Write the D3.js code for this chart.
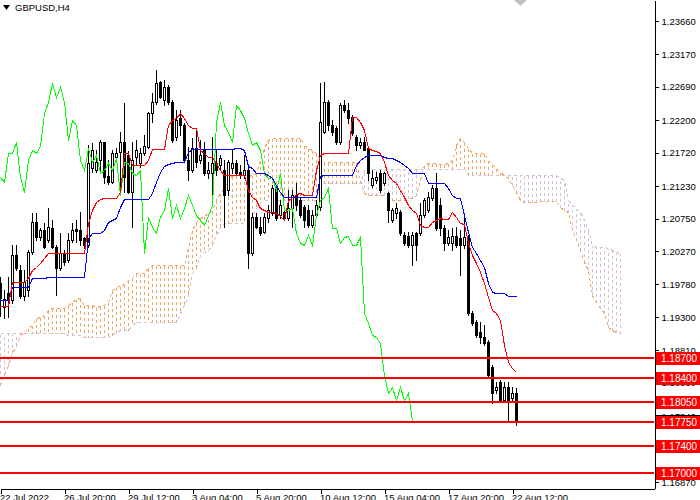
<!DOCTYPE html>
<html lang="en">
  <head>
    <meta charset="UTF-8" />
    <title>GBPUSD,H4</title>
    <style>
      body {
        margin: 0;
        background: #fff;
      }
      svg text {
        font-family: Tahoma, "Liberation Sans", Arial, sans-serif;
        font-size: 9.5px;
        fill: #000;
      }
      .crisp {
        shape-rendering: crispEdges;
      }
    </style>
  </head>

  <body>
    <svg id="chart" width="700" height="500"></svg>
    <script src="https://cdn.jsdelivr.net/npm/d3@7"></script>
    <script>
      /* global d3 */

      const symbolTitle = "GBPUSD,H4";
      const dateLabels = ["22 Jul 2022", "26 Jul 20:00", "29 Jul 12:00", "3 Aug 04:00", "5 Aug 20:00",
        "10 Aug 12:00", "15 Aug 04:00", "17 Aug 20:00", "22 Aug 12:00"];
      const dateTicks = [0, 16, 32, 48, 64, 80, 96, 112, 128];
      const priceTicks = [1.2366, 1.2317, 1.2269, 1.222, 1.2172, 1.2123, 1.2075, 1.2027, 1.1978,
        1.193, 1.1881, 1.1833, 1.1784, 1.1736, 1.1687];
      const levels = [1.187, 1.184, 1.1805, 1.1775, 1.174, 1.17];
      const bid = 1.1777;

      // H4 candles, oldest first
      const open = [
        1.1980, 1.1945, 1.1965, 1.1955, 1.2021, 1.1999, 1.1961, 1.1970, 1.2026, 1.2070,
        1.2048, 1.2058, 1.2043, 1.2061, 1.2033, 1.2002, 1.2024, 1.2014, 1.2043, 1.2060,
        1.2058, 1.2046, 1.2036, 1.2150, 1.2147, 1.2161, 1.2188, 1.2138, 1.2129, 1.2166,
        1.2173, 1.2188, 1.2169, 1.2114, 1.2166, 1.2157, 1.2172, 1.2180, 1.2231, 1.2247,
        1.2276, 1.2250, 1.2269, 1.2247, 1.2195, 1.2223, 1.2213, 1.2161, 1.2147, 1.2179,
        1.2161, 1.2176, 1.2142, 1.2142, 1.2157, 1.2154, 1.2147, 1.2117, 1.2150, 1.2157,
        1.2144, 1.2139, 1.2147, 1.2024, 1.2077, 1.2063, 1.2055, 1.2076, 1.2083, 1.2120,
        1.2080, 1.2085, 1.2076, 1.2091, 1.2110, 1.2102, 1.2092, 1.2088, 1.2066, 1.2080,
        1.2092, 1.2203, 1.2247, 1.2213, 1.2208, 1.2188, 1.2242, 1.2235, 1.2225, 1.2195,
        1.2183, 1.2188, 1.2179, 1.2125, 1.2132, 1.2142, 1.2127, 1.2113, 1.2073, 1.2083,
        1.2085, 1.2051, 1.2049, 1.2036, 1.2054, 1.2054, 1.2080, 1.2088, 1.2105, 1.2120,
        1.2095, 1.2061, 1.2039, 1.2039, 1.2049, 1.2046, 1.2036, 1.2048, 1.1936, 1.1923,
        1.1908, 1.1901, 1.1893, 1.1856, 1.1823, 1.1834, 1.1808, 1.1827, 1.1811, 1.1818
      ];
      const high = [
        1.1989, 1.1970, 1.1989, 1.2036, 1.2036, 1.2007, 1.1999, 1.2029, 1.2083, 1.2083,
        1.2061, 1.2068, 1.2091, 1.2073, 1.2036, 1.2054, 1.2029, 1.2054, 1.2068, 1.2073,
        1.2085, 1.2048, 1.2183, 1.2186, 1.2176, 1.2191, 1.2188, 1.2161, 1.2176, 1.2179,
        1.2203, 1.2245, 1.2175, 1.2188, 1.2191, 1.2179, 1.2198, 1.2232, 1.2260, 1.2294,
        1.2278, 1.2279, 1.2272, 1.2250, 1.2235, 1.2235, 1.2216, 1.2180, 1.2194, 1.2208,
        1.2191, 1.2188, 1.2158, 1.2195, 1.2176, 1.2169, 1.2161, 1.2161, 1.2176, 1.2161,
        1.2154, 1.2169, 1.2154, 1.2083, 1.2083, 1.2077, 1.2083, 1.2095, 1.2125, 1.2123,
        1.2102, 1.2094, 1.2117, 1.2117, 1.2127, 1.2107, 1.2095, 1.2095, 1.2088, 1.2102,
        1.2275, 1.2276, 1.2250, 1.2220, 1.2211, 1.2245, 1.2250, 1.2245, 1.2228, 1.2198,
        1.2194, 1.2195, 1.2180, 1.2147, 1.2144, 1.2147, 1.2144, 1.2114, 1.2091, 1.2098,
        1.2088, 1.2055, 1.2055, 1.2055, 1.2055, 1.2098, 1.2105, 1.2114, 1.2125, 1.2142,
        1.2105, 1.2066, 1.2058, 1.2061, 1.2063, 1.2058, 1.2080, 1.2051, 1.1939, 1.1926,
        1.1923, 1.1918, 1.1896, 1.1859, 1.1834, 1.1837, 1.1834, 1.1834, 1.1827, 1.1826
      ];
      const low = [
        1.1932, 1.1929, 1.1930, 1.1951, 1.1999, 1.1958, 1.1955, 1.1961, 1.2023, 1.2043,
        1.2043, 1.2032, 1.2041, 1.2032, 1.1962, 1.1999, 1.2007, 1.2011, 1.2041, 1.2041,
        1.2036, 1.2032, 1.2033, 1.2144, 1.2144, 1.2142, 1.2127, 1.2126, 1.2127, 1.2161,
        1.2122, 1.2114, 1.2113, 1.2063, 1.2154, 1.2151, 1.2169, 1.2179, 1.2217, 1.2244,
        1.2253, 1.2242, 1.2244, 1.2188, 1.2191, 1.2198, 1.2158, 1.2132, 1.2144, 1.2151,
        1.2157, 1.2139, 1.2135, 1.2099, 1.2139, 1.2147, 1.2063, 1.2110, 1.2142, 1.2139,
        1.2135, 1.2135, 1.2002, 1.2021, 1.2061, 1.2051, 1.2054, 1.2070, 1.2080, 1.2073,
        1.2076, 1.2073, 1.2073, 1.2063, 1.2088, 1.2077, 1.2063, 1.2063, 1.2063, 1.2076,
        1.2088, 1.2201, 1.2206, 1.2198, 1.2185, 1.2185, 1.2232, 1.2216, 1.2198, 1.2176,
        1.2179, 1.2176, 1.2132, 1.2122, 1.2127, 1.2114, 1.2125, 1.2070, 1.2070, 1.2076,
        1.2051, 1.2036, 1.2033, 1.2007, 1.2014, 1.2051, 1.2077, 1.2085, 1.2102, 1.2058,
        1.2051, 1.2029, 1.2036, 1.2029, 1.2033, 1.1992, 1.2032, 1.1933, 1.1918, 1.1901,
        1.1892, 1.1889, 1.1842, 1.1803, 1.1818, 1.1805, 1.1805, 1.1778, 1.1808, 1.1771
      ];
      const close = [
        1.1958, 1.1957, 1.1955, 1.2021, 1.2002, 1.1961, 1.1982, 1.2026, 1.2070, 1.2048,
        1.2058, 1.2033, 1.2063, 1.2033, 1.2002, 1.2024, 1.2011, 1.2043, 1.2058, 1.2057,
        1.2043, 1.2036, 1.2157, 1.2176, 1.2158, 1.2188, 1.2136, 1.2129, 1.2172, 1.2172,
        1.2188, 1.2136, 1.2114, 1.2161, 1.2176, 1.2172, 1.2182, 1.2231, 1.2247, 1.2275,
        1.2254, 1.2269, 1.2247, 1.2191, 1.2220, 1.2213, 1.2161, 1.2147, 1.2179, 1.2158,
        1.2169, 1.2142, 1.2147, 1.2157, 1.2147, 1.2164, 1.2110, 1.2158, 1.2157, 1.2142,
        1.2139, 1.2147, 1.2024, 1.2077, 1.2063, 1.2054, 1.2077, 1.2088, 1.2120, 1.2076,
        1.2095, 1.2076, 1.2091, 1.2110, 1.2095, 1.2080, 1.2073, 1.2066, 1.2080, 1.2095,
        1.2217, 1.2247, 1.2213, 1.2203, 1.2188, 1.2242, 1.2235, 1.2223, 1.2201, 1.2183,
        1.2188, 1.2176, 1.2142, 1.2135, 1.2136, 1.2117, 1.2142, 1.2088, 1.2088, 1.2091,
        1.2054, 1.2039, 1.2036, 1.2051, 1.2036, 1.2080, 1.2102, 1.2107, 1.2120, 1.2061,
        1.2061, 1.2039, 1.2048, 1.2049, 1.2036, 1.2036, 1.2048, 1.1936, 1.1921, 1.1904,
        1.1901, 1.1892, 1.1845, 1.1818, 1.1827, 1.1808, 1.1827, 1.1808, 1.1818, 1.1777
      ];

      // Ichimoku lines
      const tenkan = [
        1.1946, 1.1946, 1.1946, 1.1982, 1.1982, 1.1982, 1.1982, 1.1988, 1.1999, 1.2004,
        1.2010, 1.2017, 1.2024, 1.2024, 1.2024, 1.2024, 1.2024, 1.2024, 1.2024, 1.2024,
        1.2024, 1.2024, 1.2068, 1.2088, 1.2099, 1.2104, 1.2105, 1.2105, 1.2105, 1.2105,
        1.2114, 1.2172, 1.2172, 1.2154, 1.2154, 1.2154, 1.2154, 1.2161, 1.2178, 1.2178,
        1.2178, 1.2178, 1.2213, 1.2220, 1.2223, 1.2231, 1.2223, 1.2213, 1.2208, 1.2208,
        1.2176, 1.2172, 1.2166, 1.2166, 1.2157, 1.2147, 1.2139, 1.2139, 1.2139, 1.2139,
        1.2139, 1.2139, 1.2117, 1.2107, 1.2102, 1.2091, 1.2088, 1.2085, 1.2085, 1.2083,
        1.2079, 1.2073, 1.2102, 1.2105, 1.2111, 1.2113, 1.2110, 1.2110, 1.2110, 1.2147,
        1.2169, 1.2172, 1.2172, 1.2172, 1.2172, 1.2172, 1.2172, 1.2172, 1.2225, 1.2225,
        1.2217, 1.2206, 1.2179, 1.2176, 1.2175, 1.2172, 1.2158, 1.2139, 1.2132, 1.2127,
        1.2117, 1.2107, 1.2095, 1.2088, 1.2083, 1.2066, 1.2063, 1.2063, 1.2070, 1.2073,
        1.2076, 1.2074, 1.2074, 1.2085, 1.2077, 1.2068, 1.2067, 1.2039, 1.2021, 1.2010,
        1.1996, 1.1980, 1.1960, 1.1940, 1.1936, 1.1926, 1.1889, 1.1864, 1.1855, 1.1849
      ];
      const kijun = [
        1.1955, 1.1955, 1.1955, 1.1974, 1.1974, 1.1974, 1.1974, 1.1974, 1.1988, 1.1988,
        1.1988, 1.1988, 1.1989, 1.1989, 1.1989, 1.1989, 1.1989, 1.1989, 1.1989, 1.1989,
        1.1989, 1.1989, 1.2046, 1.2054, 1.2054, 1.2054, 1.2058, 1.2070, 1.2073, 1.2076,
        1.2092, 1.2104, 1.2104, 1.2104, 1.2104, 1.2104, 1.2104, 1.2104, 1.2113, 1.2129,
        1.2144, 1.2152, 1.2155, 1.2157, 1.2158, 1.2158, 1.2158, 1.2173, 1.2178, 1.2178,
        1.2178, 1.2178, 1.2178, 1.2178, 1.2178, 1.2178, 1.2178, 1.2178, 1.2178, 1.2179,
        1.2179, 1.2176, 1.2152, 1.2150, 1.2142, 1.2142, 1.2142, 1.2139, 1.2135, 1.2125,
        1.2114, 1.2107, 1.2107, 1.2107, 1.2107, 1.2107, 1.2107, 1.2107, 1.2107, 1.2107,
        1.2138, 1.2139, 1.2139, 1.2139, 1.2139, 1.2139, 1.2139, 1.2139, 1.2139, 1.2154,
        1.2161, 1.2166, 1.2169, 1.2169, 1.2169, 1.2169, 1.2166, 1.2164, 1.2164, 1.2161,
        1.2158, 1.2154, 1.2150, 1.2142, 1.2142, 1.2142, 1.2142, 1.2127, 1.2127, 1.2127,
        1.2127, 1.2127, 1.2120, 1.2110, 1.2105, 1.2105, 1.2080, 1.2055, 1.2033, 1.2024,
        1.2014, 1.2004, 1.1980, 1.1967, 1.1965, 1.1965, 1.1965, 1.1961, 1.1961, 1.1961
      ];
      // Senkou spans run 26 bars past the last candle
      const spanA = [
        1.1830, 1.1845, 1.1859, 1.1877, 1.1889, 1.1904, 1.1908, 1.1914, 1.1918, 1.1929,
        1.1930, 1.1933, 1.1940, 1.1943, 1.1943, 1.1943, 1.1943, 1.1948, 1.1952, 1.1957,
        1.1958, 1.1948, 1.1948, 1.1948, 1.1945, 1.1946, 1.1948, 1.1952, 1.1970, 1.1974,
        1.1976, 1.1979, 1.1985, 1.1989, 1.1995, 1.1995, 1.1995, 1.2002, 1.2007, 1.2007,
        1.2007, 1.2007, 1.2007, 1.2007, 1.2007, 1.2007, 1.2007, 1.2032, 1.2058, 1.2070,
        1.2076, 1.2079, 1.2083, 1.2088, 1.2102, 1.2113, 1.2120, 1.2135, 1.2138, 1.2139,
        1.2139, 1.2139, 1.2138, 1.2139, 1.2142, 1.2161, 1.2179, 1.2191, 1.2194, 1.2194,
        1.2194, 1.2194, 1.2194, 1.2194, 1.2194, 1.2194, 1.2183, 1.2179, 1.2176, 1.2172,
        1.2164, 1.2158, 1.2158, 1.2158, 1.2158, 1.2158, 1.2158, 1.2158, 1.2158, 1.2158,
        1.2132, 1.2113, 1.2110, 1.2110, 1.2110, 1.2110, 1.2110, 1.2105, 1.2102, 1.2102,
        1.2102, 1.2102, 1.2105, 1.2105, 1.2110, 1.2132, 1.2154, 1.2157, 1.2157, 1.2157,
        1.2155, 1.2155, 1.2157, 1.2161, 1.2183, 1.2194, 1.2188, 1.2179, 1.2172, 1.2172,
        1.2172, 1.2172, 1.2161, 1.2155, 1.2150, 1.2144, 1.2139, 1.2135, 1.2125, 1.2114,
        1.2102, 1.2099, 1.2099, 1.2099, 1.2099, 1.2101, 1.2101, 1.2101, 1.2101, 1.2101,
        1.2092, 1.2088, 1.2085, 1.2058, 1.2043, 1.2029, 1.2011, 1.1999, 1.1962, 1.1952,
        1.1943, 1.1936, 1.1915, 1.1911, 1.1908, 1.1907
      ];
      const spanB = [
        1.1907, 1.1907, 1.1907, 1.1907, 1.1907, 1.1907, 1.1907, 1.1907, 1.1907, 1.1907,
        1.1907, 1.1907, 1.1907, 1.1907, 1.1907, 1.1907, 1.1907, 1.1904, 1.1904, 1.1904,
        1.1904, 1.1901, 1.1901, 1.1901, 1.1901, 1.1901, 1.1901, 1.1901, 1.1904, 1.1908,
        1.1911, 1.1911, 1.1911, 1.1918, 1.1923, 1.1923, 1.1923, 1.1923, 1.1923, 1.1923,
        1.1923, 1.1923, 1.1923, 1.1923, 1.1923, 1.1936, 1.1948, 1.1962, 1.1995, 1.2002,
        1.2021, 1.2026, 1.2029, 1.2036, 1.2051, 1.2063, 1.2068, 1.2068, 1.2068, 1.2068,
        1.2068, 1.2068, 1.2068, 1.2080, 1.2091, 1.2098, 1.2102, 1.2102, 1.2102, 1.2102,
        1.2102, 1.2102, 1.2102, 1.2102, 1.2102, 1.2102, 1.2102, 1.2102, 1.2102, 1.2102,
        1.2127, 1.2127, 1.2127, 1.2127, 1.2127, 1.2127, 1.2127, 1.2127, 1.2127, 1.2127,
        1.2127, 1.2147, 1.2148, 1.2148, 1.2148, 1.2148, 1.2148, 1.2148, 1.2148, 1.2148,
        1.2148, 1.2148, 1.2148, 1.2148, 1.2148, 1.2148, 1.2148, 1.2148, 1.2148, 1.2148,
        1.2148, 1.2148, 1.2148, 1.2148, 1.2148, 1.2148, 1.2148, 1.2139, 1.2139, 1.2139,
        1.2139, 1.2139, 1.2139, 1.2139, 1.2139, 1.2139, 1.2139, 1.2139, 1.2139, 1.2139,
        1.2139, 1.2139, 1.2139, 1.2139, 1.2139, 1.2139, 1.2139, 1.2139, 1.2139, 1.2139,
        1.2135, 1.2132, 1.2102, 1.2095, 1.2091, 1.2085, 1.2073, 1.2058, 1.2036, 1.2033,
        1.2033, 1.2033, 1.2032, 1.2029, 1.2026, 1.2024
      ];
      const chikouShift = 26;

      const plotRight = 654,
        plotBottom = 488;

      // 4px per bar, like the terminal's zoom level
      const x = d3.scaleLinear().domain([0, 163.5]).range([0.5, plotRight + 0.5]);
      const y = d3.scaleLinear().domain([1.16782, 1.2397]).range([plotBottom, 0]);
      const py = v => Math.round(y(v)) + 0.5;

      const svg = d3.select("#chart");

      svg
        .append("defs")
        .append("clipPath")
        .attr("id", "plot")
        .append("rect")
        .attr("width", plotRight)
        .attr("height", plotBottom);

      const plot = svg.append("g").attr("clip-path", "url(#plot)").attr("class", "crisp");

      const bars = d3.range(open.length);
      const cloudIdx = d3.range(spanA.length);

      // kumo hatching
      plot
        .append("g")
        .selectAll("line")
        .data(cloudIdx)
        .join("line")
        .attr("x1", i => x(i))
        .attr("x2", i => x(i))
        .attr("y1", i => py(spanA[i]))
        .attr("y2", i => py(spanB[i]))
        .attr("stroke", i => (spanA[i] >= spanB[i] ? "#f4a460" : "#d8bfd8"))
        .attr("stroke-dasharray", "3,3");

      const spanLine = arr =>
        d3
          .line()
          .x((d, i) => x(i))
          .y(d => py(d))(arr);

      plot
        .append("path")
        .attr("d", spanLine(spanB))
        .attr("fill", "none")
        .attr("stroke", "#d8bfd8")
        .attr("stroke-dasharray", "3,3");
      plot
        .append("path")
        .attr("d", spanLine(spanA))
        .attr("fill", "none")
        .attr("stroke", "#f4a460")
        .attr("stroke-dasharray", "3,3");

      // candles
      const candle = plot
        .append("g")
        .selectAll("g")
        .data(bars)
        .join("g");

      candle
        .append("line")
        .attr("x1", i => x(i))
        .attr("x2", i => x(i))
        .attr("y1", i => Math.round(y(high[i])))
        .attr("y2", i => Math.round(y(low[i])) + 1)
        .attr("stroke", "#000");

      candle
        .append("rect")
        .attr("x", i => x(i) - 1)
        .attr("width", 2)
        .attr("y", i => py(Math.max(open[i], close[i])))
        .attr("height", i => Math.abs(py(open[i]) - py(close[i])))
        .attr("fill", i => (close[i] >= open[i] ? "#fff" : "#000"))
        .attr("stroke", "#000");

      // chikou, tenkan, kijun
      const chikou = close.slice(chikouShift);
      plot
        .append("path")
        .attr("d", spanLine(chikou))
        .attr("fill", "none")
        .attr("stroke", "#00ff00");
      plot
        .append("path")
        .attr("d", spanLine(kijun))
        .attr("fill", "none")
        .attr("stroke", "#0000ff");
      plot
        .append("path")
        .attr("d", spanLine(tenkan))
        .attr("fill", "none")
        .attr("stroke", "#ff0000");

      // bid line
      plot
        .append("line")
        .attr("x1", 0)
        .attr("x2", plotRight)
        .attr("y1", py(bid))
        .attr("y2", py(bid))
        .attr("stroke", "#c0c0c0");

      // horizontal levels
      plot
        .append("g")
        .selectAll("line")
        .data(levels)
        .join("line")
        .attr("x1", 0)
        .attr("x2", plotRight)
        .attr("y1", d => Math.round(y(d)))
        .attr("y2", d => Math.round(y(d)))
        .attr("stroke", "#ff0000")
        .attr("stroke-width", 2);

      // axes
      const yAxis = d3
        .axisRight(y)
        .tickValues(priceTicks)
        .tickSize(4)
        .tickSizeOuter(0)
        .tickPadding(3)
        .tickFormat(d3.format(".5f"));

      const gy = svg
        .append("g")
        .attr("transform", `translate(${plotRight + 0.5},0)`)
        .call(yAxis);
      gy.selectAll("path, line").attr("stroke", "#000").attr("class", "crisp");
      gy.selectAll("text").attr("fill", "#000");
      gy.select(".domain").attr("d", `M0,0V${plotBottom + 0.5}`);

      const xAxis = d3
        .axisBottom(x)
        .tickValues(dateTicks)
        .tickSize(5)
        .tickSizeOuter(0)
        .tickPadding(1)
        .tickFormat((d, k) => dateLabels[k]);

      const gx = svg
        .append("g")
        .attr("transform", `translate(0,${plotBottom + 0.5})`)
        .call(xAxis);
      gx.selectAll("path, line").attr("stroke", "#000").attr("class", "crisp");
      gx.select(".domain").attr("d", `M0,0H${plotRight + 0.5}`);
      gx.selectAll("text").attr("text-anchor", "start").attr("x", -1).attr("fill", "#000");

      // current price box, mostly hidden under the level labels
      const labels = svg.append("g");
      labels
        .append("rect")
        .attr("x", plotRight + 1)
        .attr("width", 45)
        .attr("y", Math.round(y(bid)) - 6)
        .attr("height", 12)
        .attr("fill", "#000");

      const lvl = labels
        .selectAll("g.lvl")
        .data(levels)
        .join("g")
        .attr("class", "lvl")
        .attr("transform", d => `translate(${plotRight + 2},${Math.round(y(d))})`);

      lvl
        .append("rect")
        .attr("x", 0)
        .attr("y", -6)
        .attr("width", 46)
        .attr("height", 13)
        .attr("fill", "#ff0000");

      lvl
        .append("text")
        .attr("x", 5)
        .attr("y", 4)
        .style("fill", "#fff")
        .style("font-size", "10px")
        .text(d => d3.format(".5f")(d));

      // title
      svg
        .append("path")
        .attr("d", "M3,5H10L6.5,10Z")
        .attr("fill", "#000");
      svg
        .append("text")
        .attr("x", 15)
        .attr("y", 11)
        .text(symbolTitle);

      // chart shift marker
      svg
        .append("path")
        .attr("d", "M514,0H527L520.5,6Z")
        .attr("fill", "#c0c0c0");
    </script>
  </body>
</html>
